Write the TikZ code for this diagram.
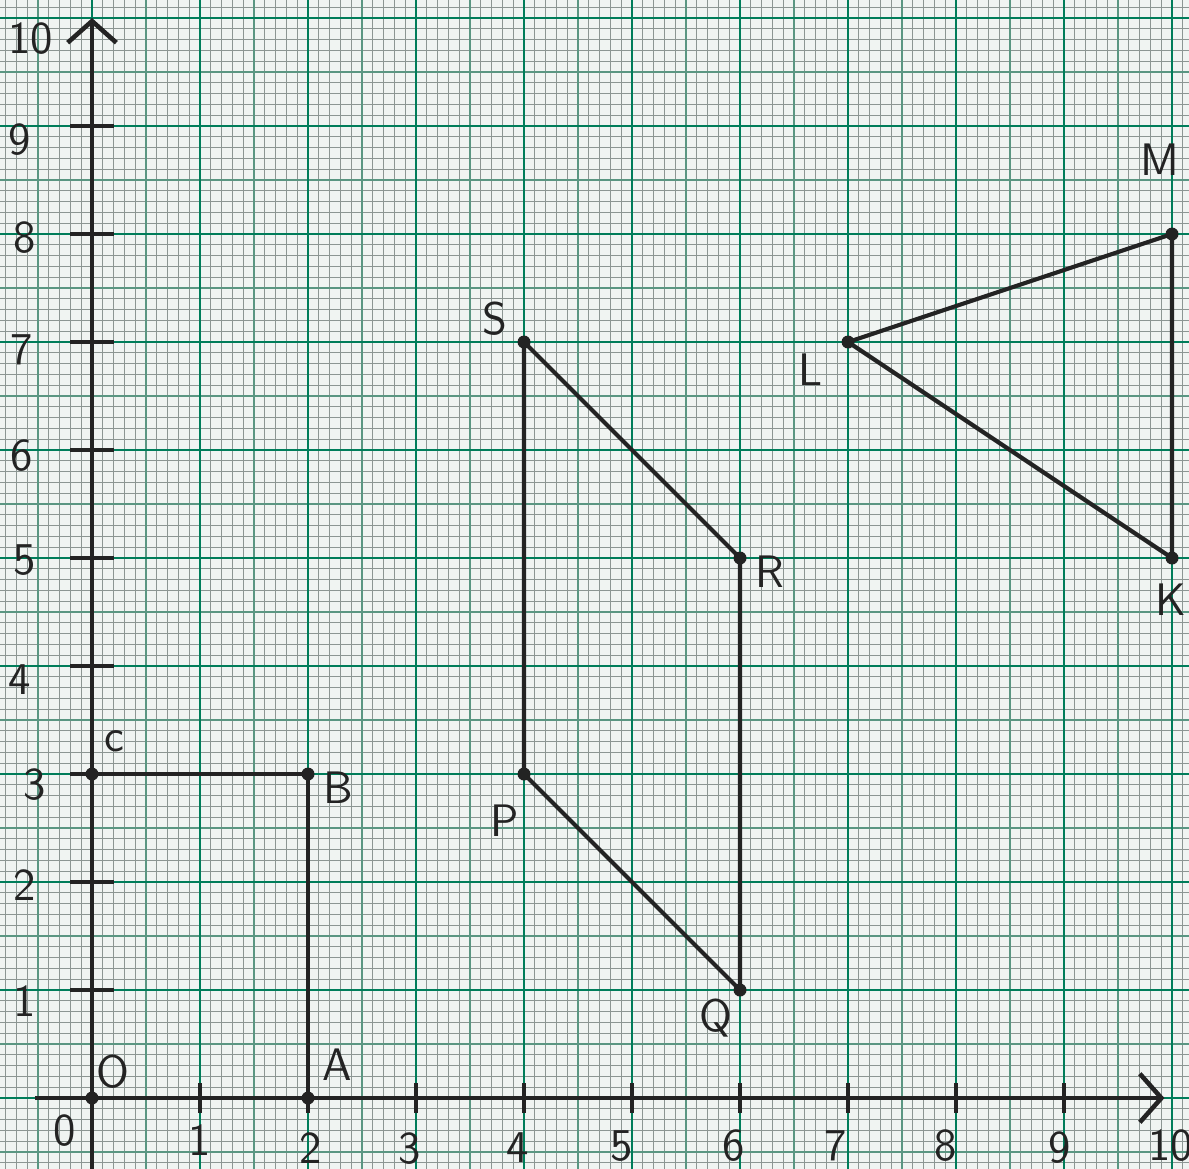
\documentclass[tikz,border=0pt]{standalone}
\usetikzlibrary{arrows.meta}
\definecolor{paper}{RGB}{240,244,242}
\definecolor{minorln}{RGB}{140,150,147}
\definecolor{halfln}{RGB}{90,150,130}
\definecolor{unitln}{RGB}{0,125,90}
\definecolor{pencil}{RGB}{35,35,35}
\begin{document}
\begin{tikzpicture}[
  pt/.style={circle,fill=pencil,inner sep=0pt,minimum size=0.12cm},
  seg/.style={draw=pencil,line width=1.1pt},
  axis/.style={draw=pencil,line width=1.2pt},
  tick/.style={draw=pencil,line width=1.1pt},
  num/.style={text=pencil,font=\sffamily\large,inner sep=0pt},
  lab/.style={text=pencil,font=\sffamily\large,inner sep=0pt}
]
\useasboundingbox (-0.852,-0.657) rectangle (10.157,10.167);
\fill[paper] (-0.852,-0.657) rectangle (10.157,10.167);
\draw[minorln,line width=0.3pt,step=0.1] (-0.9,-0.7) grid (10.2,10.2);
\draw[halfln,line width=0.4pt,step=0.5] (-0.9,-0.7) grid (10.2,10.2);
\draw[unitln,line width=0.7pt,step=1] (-0.9,-0.7) grid (10.2,10.2);

% axes
\coordinate (xs) at (-0.53,0);
\coordinate (xe) at (9.93,0);
\coordinate (ys) at (0,-0.7);
\coordinate (ye) at (0,10.0);
\draw[axis,-{Straight Barb[length=0.2cm,width=0.45cm]}] (xs) -- (xe);
\draw[axis,-{Straight Barb[length=0.2cm,width=0.45cm]}] (ys) -- (ye);
\foreach \i in {1,...,9} {
  \draw[tick] (-0.2,\i) -- (0.2,\i);
  \draw[tick] (\i,-0.14) -- (\i,0.14);
}

% axis numbers
\node[num] (y10) at (-0.57,9.81) {10};
\node[num] (y9) at (-0.67,8.87) {9};
\node[num] (y8) at (-0.62,7.97) {8};
\node[num] (y7) at (-0.65,6.93) {7};
\node[num] (y6) at (-0.65,5.95) {6};
\node[num] (y5) at (-0.62,4.98) {5};
\node[num] (y4) at (-0.67,3.87) {4};
\node[num] (y3) at (-0.53,2.9) {3};
\node[num] (y2) at (-0.62,1.97) {2};
\node[num] (y1) at (-0.62,0.9) {1};
\node[num] (x0) at (-0.25,-0.3) {0};
\node[num] (x1) at (1.0,-0.39) {1};
\node[num] (x2) at (2.02,-0.46) {2};
\node[num] (x3) at (2.94,-0.47) {3};
\node[num] (x4) at (3.94,-0.46) {4};
\node[num] (x5) at (4.9,-0.44) {5};
\node[num] (x6) at (5.94,-0.44) {6};
\node[num] (x7) at (6.89,-0.44) {7};
\node[num] (x8) at (7.9,-0.44) {8};
\node[num] (x9) at (8.96,-0.46) {9};
\node[num] (x10) at (9.99,-0.44) {10};

% points
\node[pt] (O) at (0,0) {};
\node[pt] (A) at (2,0) {};
\node[pt] (B) at (2,3) {};
\node[pt] (C) at (0,3) {};
\node[pt] (P) at (4,3) {};
\node[pt] (Q) at (6,1) {};
\node[pt] (R) at (6,5) {};
\node[pt] (S) at (4,7) {};
\node[pt] (L) at (7,7) {};
\node[pt] (M) at (10,8) {};
\node[pt] (K) at (10,5) {};

% segments
\draw[seg] (C.center) -- (B.center) -- (A.center);
\draw[seg] (S.center) -- (P.center) -- (Q.center) -- (R.center) -- (S.center);
\draw[seg] (L.center) -- (M.center) -- (K.center) -- (L.center);

% point labels
\node[lab] (lO) at (0.19,0.24) {O};
\node[lab] (lA) at (2.27,0.31) {A};
\node[lab] (lB) at (2.28,2.87) {B};
\node[lab] (lC) at (0.21,3.3) {c};
\node[lab] (lP) at (3.82,2.57) {P};
\node[lab] (lQ) at (5.78,0.74) {Q};
\node[lab] (lR) at (6.28,4.87) {R};
\node[lab] (lS) at (3.73,7.22) {S};
\node[lab] (lL) at (6.65,6.74) {L};
\node[lab] (lM) at (9.89,8.69) {M};
\node[lab] (lK) at (9.99,4.61) {K};
\end{tikzpicture}
\end{document}
